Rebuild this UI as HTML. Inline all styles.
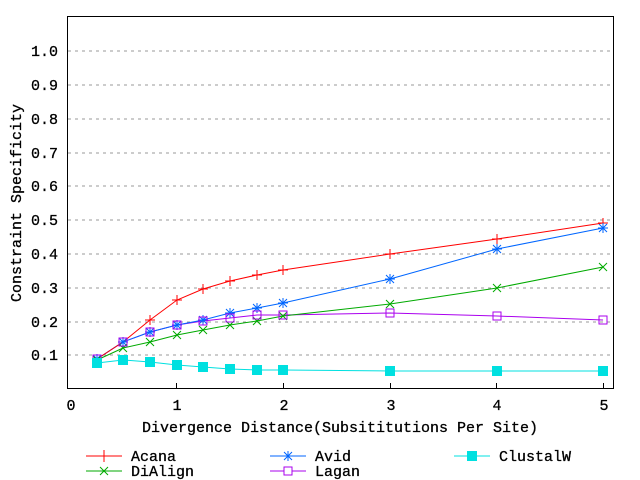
<!DOCTYPE html><html><head><style>body{margin:0;background:#fff}svg{display:block}text{font-family:"Liberation Mono",monospace;font-size:15px;fill:#000;stroke:#000;stroke-width:0.3}</style></head><body>
<svg width="640" height="480" xmlns="http://www.w3.org/2000/svg">
<g stroke="#999" stroke-dasharray="3,4" stroke-width="1">
<line x1="68" x2="613" y1="51" y2="51"/><line x1="68" x2="613" y1="85" y2="85"/><line x1="68" x2="613" y1="119" y2="119"/><line x1="68" x2="613" y1="153" y2="153"/><line x1="68" x2="613" y1="186" y2="186"/><line x1="68" x2="613" y1="220" y2="220"/><line x1="68" x2="613" y1="254" y2="254"/><line x1="68" x2="613" y1="288" y2="288"/><line x1="68" x2="613" y1="322" y2="322"/><line x1="68" x2="613" y1="355" y2="355"/>
</g>
<rect x="67.5" y="16.5" width="546" height="372" fill="none" stroke="#000"/>
<g stroke="#000"><line x1="176.5" x2="176.5" y1="389" y2="383"/><line x1="283.5" x2="283.5" y1="389" y2="383"/><line x1="390.5" x2="390.5" y1="389" y2="383"/><line x1="496.5" x2="496.5" y1="389" y2="383"/><line x1="603.5" x2="603.5" y1="389" y2="383"/></g>
<g text-anchor="end"><text x="58" y="56">1.0</text><text x="58" y="90">0.9</text><text x="58" y="124">0.8</text><text x="58" y="158">0.7</text><text x="58" y="191">0.6</text><text x="58" y="225">0.5</text><text x="58" y="259">0.4</text><text x="58" y="293">0.3</text><text x="58" y="327">0.2</text><text x="58" y="360">0.1</text></g>
<g text-anchor="middle"><text x="71" y="410">0</text><text x="177" y="410">1</text><text x="284" y="410">2</text><text x="391" y="410">3</text><text x="497" y="410">4</text><text x="604" y="410">5</text>
<text x="340" y="432">Divergence Distance(Subsititutions Per Site)</text>
<text transform="translate(21,203) rotate(-90)">Constraint Specificity</text></g>
<g fill="none" stroke-width="1">
<polyline stroke="#00e0e0" points="97,363 123,360 150,362 177,365 203,367 230,369 257,370 283,370 390,371 497,371 603,371"/>
<polyline stroke="#aa00ee" points="97,359 123,342 150,332 177,325 203,321 230,318 257,315 283,315 390,313 497,316 603,320"/>
<polyline stroke="#00aa00" points="97,360 123,348 150,342 177,335 203,330 230,325 257,321 283,316 390,304 497,288 603,267"/>
<polyline stroke="#0066ff" points="97,359 123,342 150,332 177,325 203,320 230,313 257,308 283,303 390,279 497,249 603,228"/>
<polyline stroke="#ff0000" points="97,359 123,342 150,320 177,300 203,289 230,281 257,275 283,270 390,254 497,239 603,223"/>
</g>
<g stroke="#ff0000"><path d="M92 359h10M97 354v10M118 342h10M123 337v10M145 320h10M150 315v10M172 300h10M177 295v10M198 289h10M203 284v10M225 281h10M230 276v10M252 275h10M257 270v10M278 270h10M283 265v10M385 254h10M390 249v10M492 239h10M497 234v10M598 223h10M603 218v10"/></g>
<g stroke="#0066ff"><path d="M92 359h10M97 354v10M93 355l8 8M101 355l-8 8M118 342h10M123 337v10M119 338l8 8M127 338l-8 8M145 332h10M150 327v10M146 328l8 8M154 328l-8 8M172 325h10M177 320v10M173 321l8 8M181 321l-8 8M198 320h10M203 315v10M199 316l8 8M207 316l-8 8M225 313h10M230 308v10M226 309l8 8M234 309l-8 8M252 308h10M257 303v10M253 304l8 8M261 304l-8 8M278 303h10M283 298v10M279 299l8 8M287 299l-8 8M385 279h10M390 274v10M386 275l8 8M394 275l-8 8M492 249h10M497 244v10M493 245l8 8M501 245l-8 8M598 228h10M603 223v10M599 224l8 8M607 224l-8 8"/></g>
<g stroke="#00aa00"><path d="M93 356l8 8M101 356l-8 8M119 344l8 8M127 344l-8 8M146 338l8 8M154 338l-8 8M173 331l8 8M181 331l-8 8M199 326l8 8M207 326l-8 8M226 321l8 8M234 321l-8 8M253 317l8 8M261 317l-8 8M279 312l8 8M287 312l-8 8M386 300l8 8M394 300l-8 8M493 284l8 8M501 284l-8 8M599 263l8 8M607 263l-8 8"/></g>
<g stroke="#aa00ee" fill="none"><rect x="93" y="355" width="8" height="8"/><rect x="119" y="338" width="8" height="8"/><rect x="146" y="328" width="8" height="8"/><rect x="173" y="321" width="8" height="8"/><rect x="199" y="317" width="8" height="8"/><rect x="226" y="314" width="8" height="8"/><rect x="253" y="311" width="8" height="8"/><rect x="279" y="311" width="8" height="8"/><rect x="386" y="309" width="8" height="8"/><rect x="493" y="312" width="8" height="8"/><rect x="599" y="316" width="8" height="8"/></g>
<g fill="#00e0e0"><rect x="92" y="358" width="10" height="10"/><rect x="118" y="355" width="10" height="10"/><rect x="145" y="357" width="10" height="10"/><rect x="172" y="360" width="10" height="10"/><rect x="198" y="362" width="10" height="10"/><rect x="225" y="364" width="10" height="10"/><rect x="252" y="365" width="10" height="10"/><rect x="278" y="365" width="10" height="10"/><rect x="385" y="366" width="10" height="10"/><rect x="492" y="366" width="10" height="10"/><rect x="598" y="366" width="10" height="10"/></g>
<g><path d="M86 456h36M104 450v12" stroke="#ff0000"/><text x="131" y="461">Acana</text>
<path d="M86 471h36M100 467l8 8M108 467l-8 8" stroke="#00aa00"/><text x="131" y="476">DiAlign</text>
<path d="M270 456h36M283 456h10M288 451v10M284 452l8 8M292 452l-8 8" stroke="#0066ff"/><text x="315" y="461">Avid</text>
<path d="M270 471h36" stroke="#aa00ee"/><rect x="284" y="467" width="8" height="8" fill="#fff" stroke="#aa00ee"/><text x="315" y="476">Lagan</text>
<path d="M454 456h36" stroke="#00e0e0"/><rect x="467" y="451" width="10" height="10" fill="#00e0e0"/><text x="499" y="461">ClustalW</text></g>
</svg></body></html>
